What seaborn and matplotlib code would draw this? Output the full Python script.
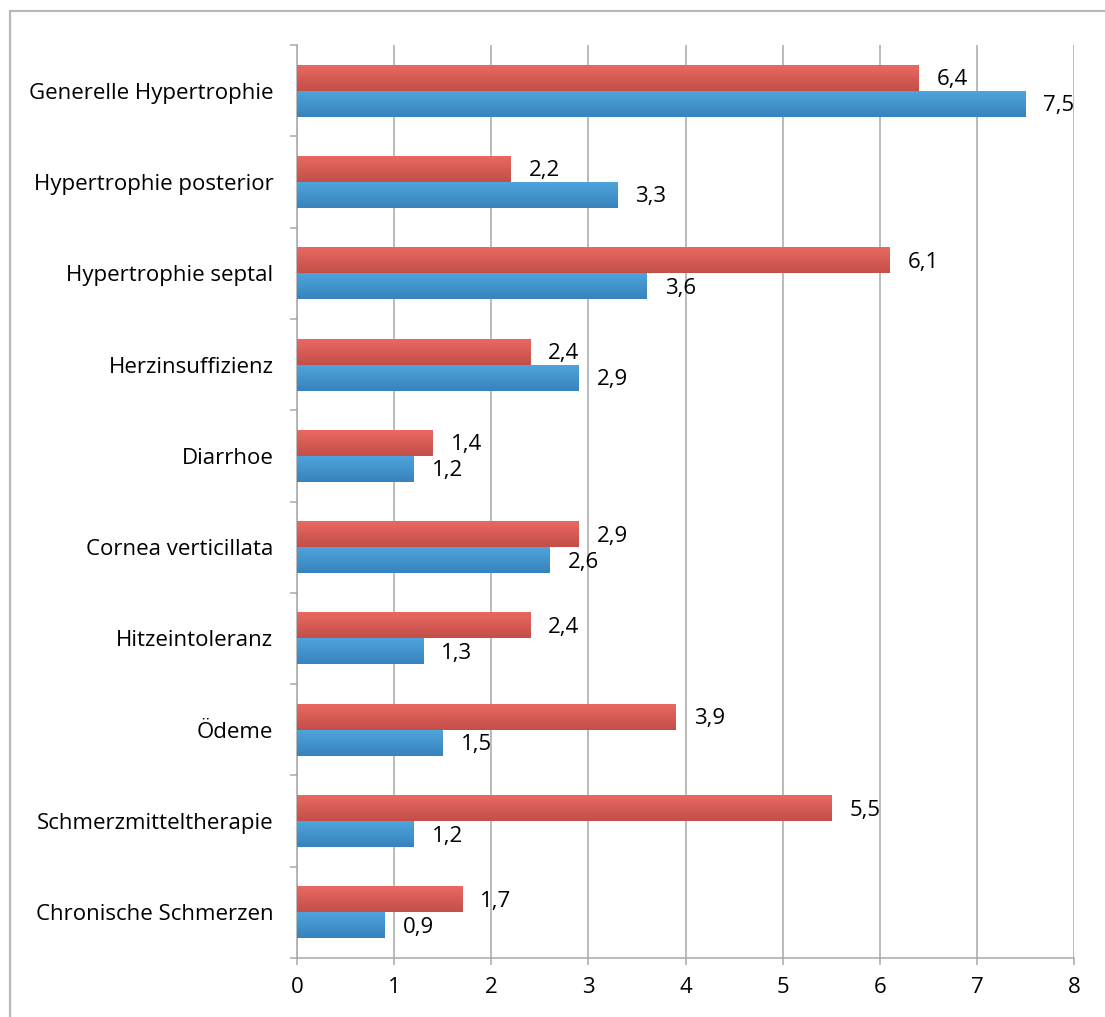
import numpy as np
import pandas as pd
import matplotlib
matplotlib.use("Agg")
import matplotlib.pyplot as plt
import seaborn as sns
from matplotlib.patches import Rectangle
from matplotlib.colors import LinearSegmentedColormap

categories = ["Generelle Hypertrophie", "Hypertrophie posterior", "Hypertrophie septal",
              "Herzinsuffizienz", "Diarrhoe", "Cornea verticillata", "Hitzeintoleranz",
              "Ödeme", "Schmerzmitteltherapie", "Chronische Schmerzen"]
red_values = [6.4, 2.2, 6.1, 2.4, 1.4, 2.9, 2.4, 3.9, 5.5, 1.7]
blue_values = [7.5, 3.3, 3.6, 2.9, 1.2, 2.6, 1.3, 1.5, 1.2, 0.9]
series_names = ["Serie 1", "Serie 2"]
x_ticks = [0, 1, 2, 3, 4, 5, 6, 7, 8]

df = pd.DataFrame({
    "Kategorie": categories * 2,
    "Wert": red_values + blue_values,
    "Serie": [series_names[0]] * len(categories) + [series_names[1]] * len(categories),
})

sns.set_theme(style="white")
plt.rcParams["font.family"] = ["Open Sans", "DejaVu Sans"]

W, H = 1105, 1017
fig = plt.figure(figsize=(W / 100, H / 100), dpi=100)
ax = fig.add_axes([297 / W, 1 - 958 / H, (1074 - 297) / W, (958 - 45) / H])

palette = {series_names[0]: "#D95550", series_names[1]: "#3F92CC"}
sns.barplot(data=df, y="Kategorie", x="Wert", hue="Serie", order=categories,
            hue_order=series_names, palette=palette, orient="h", width=0.57,
            saturation=1, legend=False, ax=ax, zorder=3)

grads = {
    series_names[0]: ["#EA6A62", "#C44E49"],
    series_names[1]: ["#4FA5DC", "#3883BD"],
}
cmaps = {k: LinearSegmentedColormap.from_list(k, v) for k, v in grads.items()}

ax.set_xlim(0, 8)
ax.set_ylim(len(categories) - 0.5, -0.5)

FS = 16
for container, name in zip(ax.containers, series_names):
    for patch in container:
        x0, y0 = patch.get_x(), patch.get_y()
        w, h = patch.get_width(), patch.get_height()
        grad = np.linspace(0, 1, 64).reshape(-1, 1)
        im = ax.imshow(grad, cmap=cmaps[name], aspect="auto",
                       extent=(x0, x0 + w, y0 + h, y0), origin="upper", zorder=4)
        im.set_clip_path(patch)
        patch.set_edgecolor("none")
    labels = [f"{v:.1f}".replace(".", ",") for v in container.datavalues]
    for patch, lab in zip(container, labels):
        ax.annotate(lab, (patch.get_x() + patch.get_width(), patch.get_y() + patch.get_height() / 2),
                    xytext=(18, -2), textcoords="offset pixels", ha="left", va="center",
                    fontsize=FS, color="#000000", zorder=6)

ax.set_xlim(0, 8)
ax.set_ylim(len(categories) - 0.5, -0.5)

ax.set_xticks(x_ticks)
ax.set_xticklabels([str(t) for t in x_ticks])
ax.set_xlabel("")
ax.set_ylabel("")
ax.grid(axis="x", color="#A8A8A8", linewidth=1.1, zorder=0)
ax.grid(axis="y", visible=False)
ax.set_axisbelow(True)

ax.set_yticks(range(len(categories)))
ax.set_yticklabels(categories)
ax.set_yticks(np.arange(-0.5, len(categories), 1), minor=True)
ax.tick_params(axis="y", which="major", length=0, pad=17, labelsize=FS, labelcolor="#000000")
ax.tick_params(axis="y", which="minor", length=5, width=1.1, color="#A8A8A8", left=True)
ax.tick_params(axis="x", which="major", length=5, width=1.1, color="#A8A8A8", bottom=True,
               pad=9, labelsize=FS, labelcolor="#000000")

for s in ["top", "right"]:
    ax.spines[s].set_visible(False)
for s in ["left", "bottom"]:
    ax.spines[s].set_color("#A8A8A8")
    ax.spines[s].set_linewidth(1.1)

fig.add_artist(Rectangle((10 / W, -0.1), 1.2, 1.1 - 11 / H, transform=fig.transFigure,
                         fill=False, edgecolor="#B8B8B8", linewidth=1.6))

fig.savefig("out.png", dpi=100)
